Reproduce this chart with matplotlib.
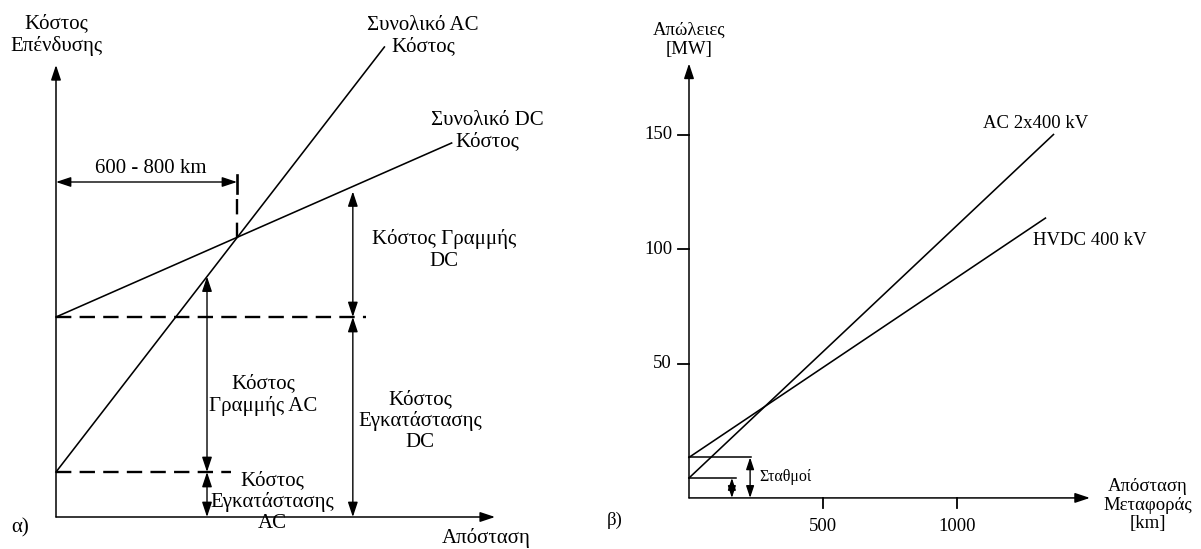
import numpy as np
import matplotlib
matplotlib.use("Agg")
import matplotlib.pyplot as plt

plt.rcParams['font.family'] = ['Liberation Serif', 'DejaVu Serif']

# ---- panel a: investment cost vs distance (schematic) ----
ac_dist = [0, 1270]          # km
ac_cost = [4.5, 47.0]        # total AC cost (arb. units)
dc_dist = [0, 1530]
dc_cost = [20.0, 37.4]       # total DC cost
ac_station = 4.5
dc_station = 20.0
crossover = 700              # km, where the two totals meet
ac_arrow_x = 584
dc_arrow_x = 1148
dist_axis_max = 1698
cost_axis_max = 45.2

# ---- panel b: losses vs transmission distance ----
ac_loss_km = [0, 1360]
ac_loss_mw = [0, 150]
dc_loss_km = [0, 1330]
dc_loss_mw = [9, 113.5]
loss_ticks = [50, 100, 150]
km_ticks = [500, 1000]
station_ac = 0
station_dc = 9
km_axis_max = 1496
mw_axis_max = 181
mw_floor = -8.7

W, H = 1201, 549
fig = plt.figure(figsize=(W / 100, H / 100), dpi=100)


def make_axes(px0, px1, x0_px, x_scale, y0_px, y_scale):
    # axes covering pixel columns px0..px1, data->pixel linear
    ax = fig.add_axes([px0 / W, 0, (px1 - px0) / W, 1])
    ax.set_xlim((px0 - x0_px) / x_scale, (px1 - x0_px) / x_scale)
    ax.set_ylim((y0_px - H) / y_scale, y0_px / y_scale)
    ax.axis('off')
    return ax


def arrow(ax, a, b, style='<|-|>', lw=1.0, ms=10):
    ax.annotate('', xy=b, xytext=a,
                arrowprops=dict(arrowstyle=style + ',head_length=0.9,head_width=0.3',
                                color='black', lw=lw, shrinkA=0, shrinkB=0,
                                mutation_scale=ms))


# ---------------- left panel ----------------
ax = make_axes(0, 600, 56, 181 / crossover, 517, 10)
fs = 15
lw_line = 1.15

arrow(ax, (0, 0), (0, cost_axis_max), '-|>', lw=1.1)
arrow(ax, (0, 0), (dist_axis_max, 0), '-|>', lw=1.1)

ax.plot(ac_dist, ac_cost, color='black', lw=lw_line)
ax.plot(dc_dist, dc_cost, color='black', lw=lw_line)

ax.plot([0, 1200], [dc_station, dc_station], color='black', lw=1.7, dashes=(6.5, 3.5))
ax.plot([0, 675], [ac_station, ac_station], color='black', lw=1.7, dashes=(6.5, 3.5))

cross_y = np.interp(crossover, ac_dist, ac_cost)
ax.plot([crossover, crossover], [cross_y, 32.4], color='black', lw=1.7, dashes=(6.5, 3.5))
ax.plot([crossover, crossover], [32.4, 34.2], color='black', lw=1.9)
arrow(ax, (0, 33.5), (crossover, 33.5))

ac_top = np.interp(ac_arrow_x, ac_dist, ac_cost)
dc_top = np.interp(dc_arrow_x, dc_dist, dc_cost)
arrow(ax, (ac_arrow_x, ac_top), (ac_arrow_x, ac_station))
arrow(ax, (ac_arrow_x, ac_station), (ac_arrow_x, 0))
arrow(ax, (dc_arrow_x, dc_top - 0.5), (dc_arrow_x, dc_station))
arrow(ax, (dc_arrow_x, dc_station), (dc_arrow_x, 0))

txt = dict(ha='center', va='center', fontsize=fs, linespacing=1.15)
ax.text(0, 48.2, 'Κόστος\nΕπένδυσης', **txt)
ax.text(1419, 48.1, 'Συνολικό AC\nΚόστος', **txt)
ax.text(1667, 38.6, 'Συνολικό DC\nΚόστος', **txt)
ax.text(367, 34.9, '600 - 800 km', **txt)
ax.text(1500, 26.7, 'Κόστος Γραμμής\nDC', **txt)
ax.text(800, 12.2, 'Κόστος\nΓραμμής AC', **txt)
ax.text(1408, 9.6, 'Κόστος\nΕγκατάστασης\nDC', **txt)
ax.text(835, 1.5, 'Κόστος\nΕγκατάστασης\nAC', **txt)
ax.text(-139, -1.1, 'α)', **txt)
ax.text(1663, -2.1, 'Απόσταση', **txt)

# ---------------- right panel ----------------
bx = make_axes(600, W, 689, 134 / 500, 478, 114.5 / 50)
fs2 = 13.5

arrow(bx, (0, mw_floor), (0, mw_axis_max), '-|>', lw=1.1)
arrow(bx, (0, mw_floor), (km_axis_max, mw_floor), '-|>', lw=1.1)

bx.plot(ac_loss_km, ac_loss_mw, color='black', lw=lw_line)
bx.plot(dc_loss_km, dc_loss_mw, color='black', lw=lw_line)

for t in loss_ticks:
    bx.plot([-41, 0], [t, t], color='black', lw=1.3)
    bx.text(-63, t, str(t), ha='right', va='center', fontsize=fs2)
for t in km_ticks:
    bx.plot([t, t], [mw_floor, -13.1], color='black', lw=1.3)
    bx.text(t, -21, str(t), ha='center', va='center', fontsize=fs2)

bx.plot([0, 231], [station_dc, station_dc], color='black', lw=1.1)
bx.plot([0, 175], [station_ac, station_ac], color='black', lw=1.1)
arrow(bx, (228, station_dc), (228, mw_floor), ms=8)
arrow(bx, (160, station_ac), (160, mw_floor), ms=8)

txt2 = dict(ha='center', va='center', fontsize=fs2, linespacing=1.15)
bx.text(0, 191.3, 'Απώλειες\n[MW]', **txt2)
bx.text(1295, 155, 'AC 2x400 kV', **txt2)
bx.text(1496, 103.5, 'HVDC 400 kV', **txt2)
bx.text(262, 0.4, 'Σταθμοί', ha='left', va='center', fontsize=11.5)
bx.text(1713, -11.8, 'Απόσταση\nΜεταφοράς\n[km]', **txt2)
bx.text(-276, -18.3, 'β)', **txt2)

fig.savefig('out.png', dpi=100)
